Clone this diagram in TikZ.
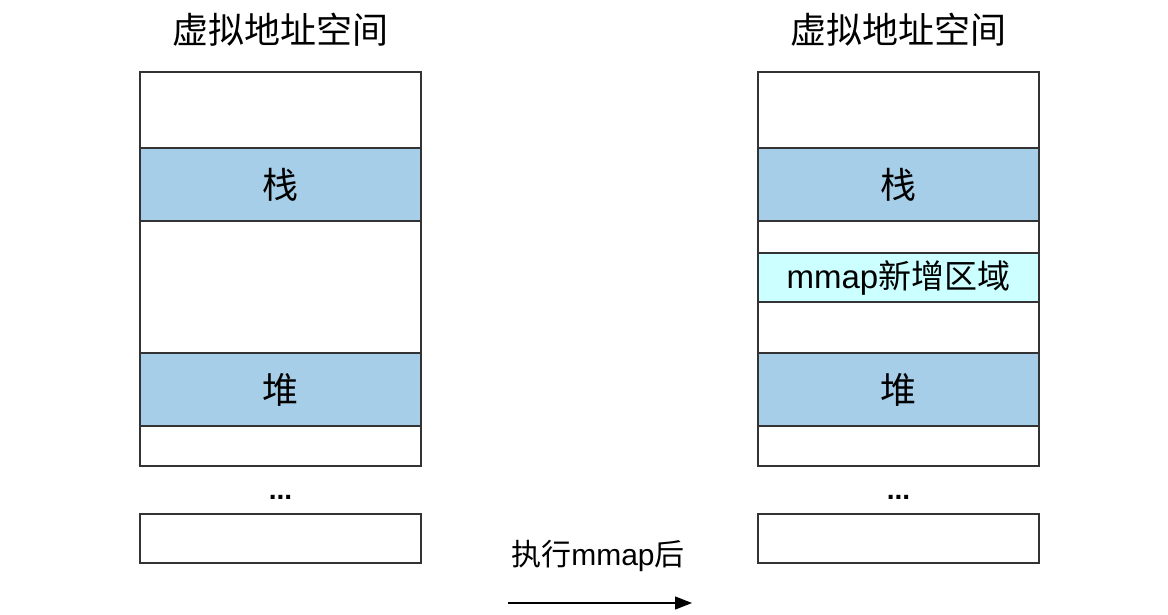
\documentclass[tikz,border=0pt]{standalone}
\usepackage{fontspec}
\setmainfont{Noto Sans CJK SC}
\newfontfamily\latinfont{Liberation Sans}
\usetikzlibrary{positioning,arrows.meta}
\definecolor{segblue}{HTML}{A6CEE8}
\definecolor{mmapcyan}{HTML}{CCFFFF}

\begin{document}
\begin{tikzpicture}[x=1pt,y=-1pt,
    cell/.style={draw=black!80,line width=1.4pt,minimum width=281pt,
      inner sep=0pt,outer sep=0pt,font=\fontsize{36}{38}\selectfont},
    seg/.style={cell,fill=segblue},
    newseg/.style={cell,fill=mmapcyan,font=\fontsize{33}{35}\selectfont},
    title/.style={font=\fontsize{36}{38}\selectfont},
    dots/.style={font=\latinfont\bfseries\fontsize{28}{30}\selectfont}]
    \useasboundingbox (0,0) rectangle (1168,615);
    % before
    \node[title] (ltitle) at (280.5,30) {虚拟地址空间};
    \node[cell,minimum height=76pt] (ltop) at (280.5,110) {};
    \node[seg,minimum height=73pt,below=0pt of ltop] (lstack) {栈};
    \node[cell,minimum height=132pt,below=0pt of lstack] (lgap) {};
    \node[seg,minimum height=73pt,below=0pt of lgap] (lheap) {堆};
    \node[cell,minimum height=40pt,below=0pt of lheap] (lbase) {};
    \node[dots] (ldots) at (280.5,497) {...};
    \node[cell,minimum height=49pt] (lend) at (280.5,538.5) {};
    % after
    \node[title] (rtitle) at (898.5,30) {虚拟地址空间};
    \node[cell,minimum height=76pt] (rtop) at (898.5,110) {};
    \node[seg,minimum height=73pt,below=0pt of rtop] (rstack) {栈};
    \node[cell,minimum height=32pt,below=0pt of rstack] (rgapa) {};
    \node[newseg,minimum height=49pt,below=0pt of rgapa] (rmmap) {{\latinfont mmap}新增区域};
    \node[cell,minimum height=51pt,below=0pt of rmmap] (rgapb) {};
    \node[seg,minimum height=73pt,below=0pt of rgapb] (rheap) {堆};
    \node[cell,minimum height=40pt,below=0pt of rheap] (rbase) {};
    \node[dots] (rdots) at (898.5,497) {...};
    \node[cell,minimum height=49pt] (rend) at (898.5,538.5) {};
    % arrow
    \node[font=\fontsize{30}{32}\selectfont] (step) at (598,556) {执行{\latinfont mmap}后};
    \coordinate (from) at (508,603);
    \coordinate (to) at (692,603);
    \draw[line width=1.3pt,-{Triangle[length=17pt,width=13pt]}] (from) -- (to);
\end{tikzpicture}
\end{document}
